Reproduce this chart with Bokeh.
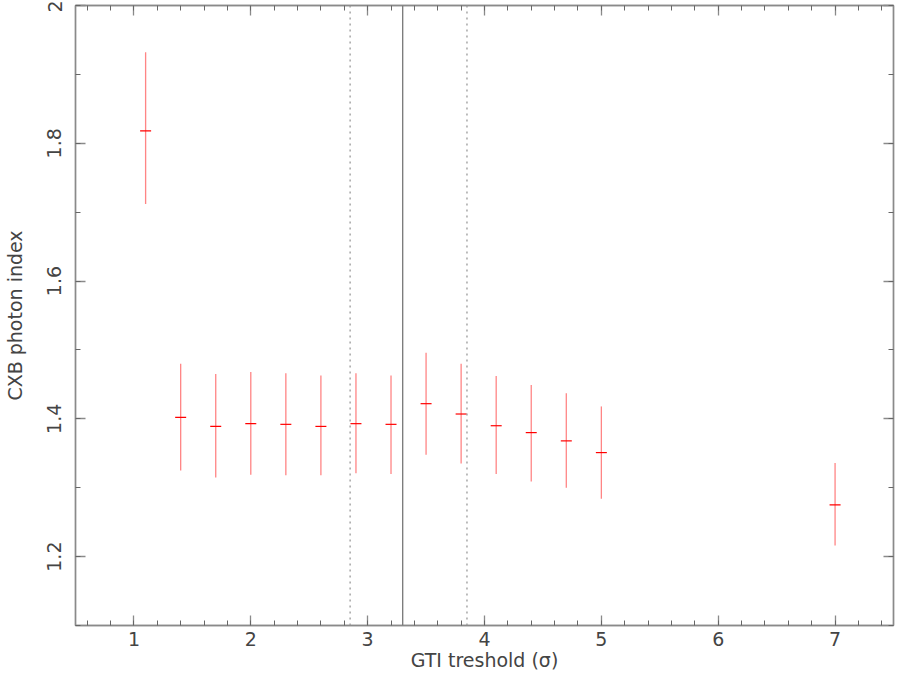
from bokeh.plotting import figure
from bokeh.models import (ColumnDataSource, Span, LinearAxis, FixedTicker,
                          CustomJSTickFormatter, Range1d, CustomLabelingPolicy)
from bokeh.embed import file_html
from bokeh.resources import INLINE

# ---- data ----
gti_threshold = [1.1, 1.4, 1.7, 2.0, 2.3, 2.6, 2.9, 3.2, 3.5, 3.8, 4.1, 4.4, 4.7, 5.0, 7.0]
photon_index = [1.818, 1.402, 1.389, 1.393, 1.392, 1.389, 1.393, 1.392, 1.422, 1.407,
                1.390, 1.380, 1.368, 1.351, 1.275]
index_lower = [1.712, 1.325, 1.315, 1.319, 1.318, 1.318, 1.321, 1.320, 1.348, 1.335,
               1.320, 1.309, 1.300, 1.284, 1.216]
index_upper = [1.932, 1.480, 1.465, 1.468, 1.466, 1.463, 1.466, 1.463, 1.496, 1.480,
               1.462, 1.449, 1.437, 1.418, 1.336]
best_threshold = 3.3
threshold_band = [2.85, 3.85]

x_major = [1, 2, 3, 4, 5, 6, 7]
x_minor = [round(0.6 + 0.2 * i, 1) for i in range(35)]
y_major = [1.2, 1.4, 1.6, 1.8, 2.0]
y_minor = [round(1.1 + 0.1 * i, 1) for i in range(10)]

FONT = "DejaVu Sans"
TXT = "#444444"
AX = "#8a8a8a"

src = ColumnDataSource(dict(x=gti_threshold, y=photon_index,
                            lo=index_lower, hi=index_upper))

p = figure(width=898, height=673, output_backend="svg", toolbar_location=None,
           x_range=Range1d(0.5, 7.5), y_range=Range1d(1.1, 2.0),
           x_axis_type=None, y_axis_type=None,
           min_border_left=73, min_border_right=2, min_border_top=5,
           min_border_bottom=10)
p.background_fill_color = "white"
p.border_fill_color = "white"
p.outline_line_color = AX
p.outline_line_width = 1.4
p.xgrid.visible = False
p.ygrid.visible = False

xt = FixedTicker(ticks=x_major, minor_ticks=x_minor)
yt = FixedTicker(ticks=y_major, minor_ticks=y_minor)
yfmt = CustomJSTickFormatter(code="return (Math.round(tick*10)/10).toString();")


def style(ax, labels=True):
    ax.axis_line_color = AX
    ax.axis_line_width = 1.4
    ax.major_tick_line_color = AX
    ax.minor_tick_line_color = "#666666"
    ax.major_tick_line_width = 1.3
    ax.minor_tick_line_width = 1
    ax.major_tick_out = 0
    ax.minor_tick_out = 0
    ax.major_tick_in = 10
    ax.minor_tick_in = 5
    ax.major_label_text_font = FONT
    ax.major_label_text_color = TXT
    ax.axis_label_text_font = FONT
    ax.axis_label_text_color = TXT
    ax.axis_label_text_font_style = "normal"
    ax.axis_label_text_font_size = "19px"
    if labels:
        ax.major_label_text_font_size = "19px"
    else:
        ax.major_label_text_font_size = "1px"
        ax.major_label_standoff = 0
        ax.major_label_policy = CustomLabelingPolicy(code="return new Set()")


xb = LinearAxis(ticker=xt, axis_label="GTI treshold (σ)")
style(xb)
xb.major_label_standoff = 6
xb.axis_label_standoff = 0
p.add_layout(xb, "below")

xa = LinearAxis(ticker=xt)
style(xa, labels=False)
p.add_layout(xa, "above")

yl = LinearAxis(ticker=yt, formatter=yfmt, axis_label="CXB photon index")
style(yl)
yl.major_label_orientation = "parallel"
yl.major_label_standoff = 14
yl.axis_label_standoff = 19
p.add_layout(yl, "left")

yr = LinearAxis(ticker=yt)
style(yr, labels=False)
p.add_layout(yr, "right")

# threshold markers
p.add_layout(Span(location=best_threshold, dimension="height",
                  line_color="#777777", line_width=1.3))
for loc in threshold_band:
    p.add_layout(Span(location=loc, dimension="height", line_color="#999999",
                      line_width=1.3, line_dash="2 4"))

# error bars and points
p.segment(x0="x", y0="lo", x1="x", y1="hi", source=src,
          line_color="#ff2020", line_width=1.3, line_alpha=0.55)
p.scatter(x="x", y="y", source=src, marker="dash", size=11,
          line_color="#ff0000", line_width=1.2)

open("out.html", "w").write(file_html(p, INLINE))
